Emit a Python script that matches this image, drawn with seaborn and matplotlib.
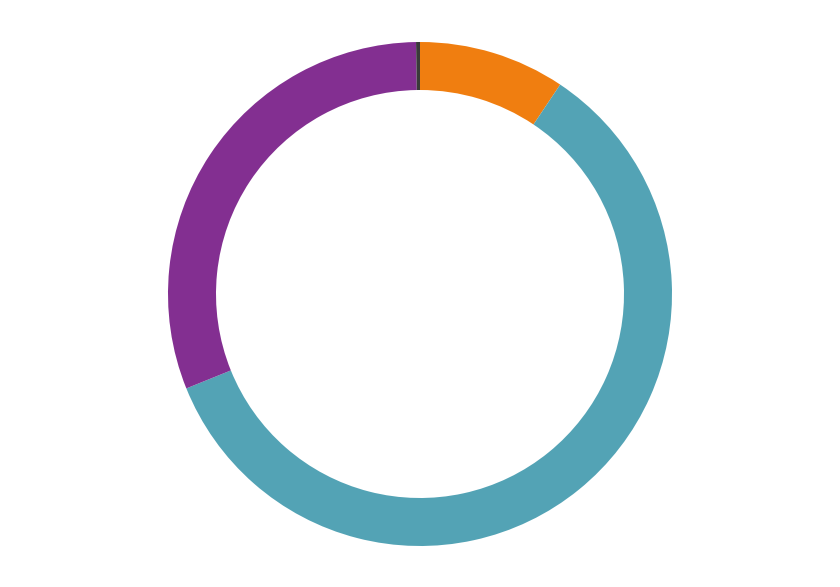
import matplotlib
matplotlib.use("Agg")
import matplotlib.pyplot as plt
import seaborn as sns

# segments clockwise from 12 o'clock, in degrees of the ring
labels = ["Orange", "Teal", "Purple", "Marker"]
values = [33.8, 214.2, 111.1, 0.9]
colors = ["#f07e10", "#53a3b5", "#832f91", "#3a3a3a"]

sns.set_theme(style="white")

fig = plt.figure(figsize=(8.4, 5.87), dpi=100)
ax = fig.add_axes([168 / 840, 41 / 587, 504 / 840, 504 / 587])

ax.pie(values, colors=colors, startangle=90, counterclock=False,
       radius=1.0, wedgeprops=dict(width=48 / 252, linewidth=0))
ax.set_xlim(-1, 1)
ax.set_ylim(-1, 1)
ax.axis("off")

fig.savefig("out.png", dpi=100, facecolor="white")
